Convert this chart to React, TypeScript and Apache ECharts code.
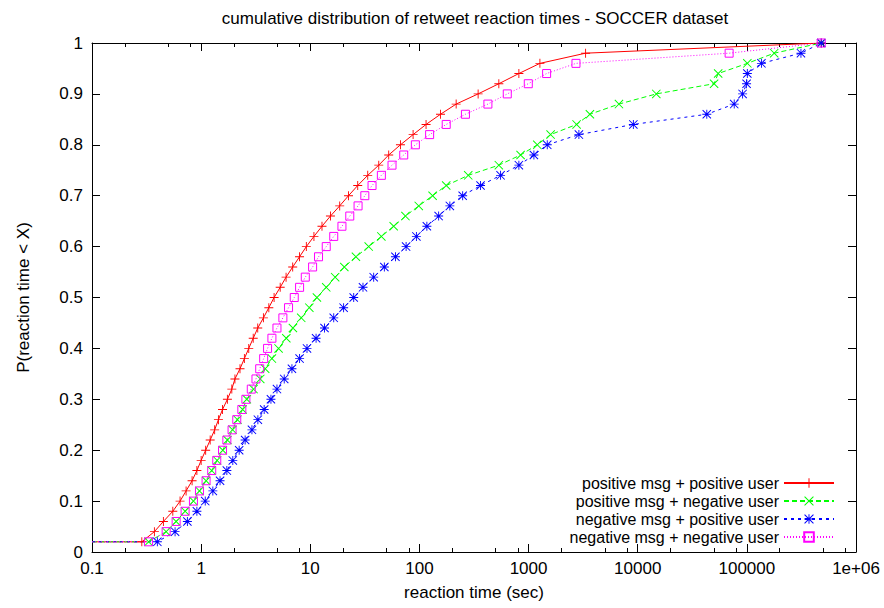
import React, { useEffect, useRef } from "react";
import * as echarts from "echarts";

// cumulative probability levels (y values of every marker)
const probLevels = [
  0.02, 0.04, 0.06, 0.08, 0.1, 0.12, 0.14, 0.16, 0.18, 0.2,
  0.22, 0.24, 0.26, 0.28, 0.3, 0.32, 0.34, 0.36, 0.38, 0.4,
  0.42, 0.44, 0.46, 0.48, 0.5, 0.52, 0.54, 0.56, 0.58, 0.6,
  0.62, 0.64, 0.66, 0.68, 0.7, 0.72, 0.74, 0.76, 0.78, 0.8,
  0.82, 0.84, 0.86, 0.88, 0.9, 0.92, 0.94, 0.96, 0.98, 1.0,
];

// flat start of every curve (left edge of the plot, first level)
const flatStartX = 0.1;
const flatStartY = 0.02;

// reaction times (sec) at each probability level
const posMsgPosUser = [
  0.286, 0.373, 0.451, 0.55, 0.641, 0.728, 0.826, 0.914, 1.0, 1.1,
  1.21, 1.33, 1.44, 1.57, 1.74, 1.91, 2.04, 2.27, 2.49, 2.73,
  3.0, 3.3, 3.72, 4.17, 4.66, 5.3, 6.0, 6.9, 7.97, 9.2,
  10.8, 12.8, 15.3, 18.6, 22.4, 27.2, 33.6, 42.4, 52.3, 67,
  87.5, 115, 156, 217, 345, 534, 815, 1270, 3330, 480000,
];
const posMsgNegUser = [
  0.33, 0.478, 0.59, 0.713, 0.85, 0.965, 1.11, 1.25, 1.4, 1.58,
  1.74, 1.94, 2.15, 2.4, 2.62, 3.02, 3.48, 3.86, 4.45, 5.12,
  6.03, 6.93, 8.26, 9.8, 11.5, 14.0, 16.9, 20.5, 26.2, 34.3,
  44.8, 58.1, 74.5, 98.6, 132, 176, 280, 534, 845, 1202,
  1592, 2754, 3648, 6730, 14800, 50100, 54600, 101000, 178000, 480000,
];
const negMsgPosUser = [
  0.397, 0.577, 0.748, 0.914, 1.09, 1.28, 1.49, 1.72, 1.95, 2.23,
  2.53, 2.92, 3.31, 3.78, 4.36, 4.95, 5.77, 6.79, 7.98, 9.33,
  11.3, 13.5, 16.4, 20.2, 25.0, 30.4, 38.1, 47.7, 60.3, 75.5,
  93.8, 117, 150, 190, 249, 363, 554, 815, 1119, 1483,
  2891, 9120, 42950, 76600, 91400, 99400, 101000, 136000, 313000, 480000,
];
const negMsgNegUser = [
  0.329, 0.478, 0.59, 0.713, 0.85, 0.965, 1.11, 1.25, 1.39, 1.57,
  1.72, 1.92, 2.12, 2.36, 2.57, 2.88, 3.18, 3.44, 3.74, 4.06,
  4.45, 4.95, 5.61, 6.32, 7.13, 7.98, 9.0, 10.5, 11.9, 14.0,
  16.4, 19.5, 23.0, 27.4, 31.6, 36.8, 44.8, 56.1, 71.8, 91.8,
  124, 176, 264, 424, 638, 994, 1463, 2719, 68800, 480000,
];

const seriesNames = [
  "positive msg + positive user",
  "positive msg + negative user",
  "negative msg + positive user",
  "negative msg + negative user",
];

const xTickValues = [0.1, 1, 10, 100, 1000, 10000, 100000, 1000000];
const xTickLabels = ["0.1", "1", "10", "100", "1000", "10000", "100000", "1e+06"];
const xMinorTickValues = [
  0.2, 0.5, 0.8, 2, 5, 8, 20, 50, 80, 200, 500, 800,
  2000, 5000, 8000, 20000, 50000, 80000, 200000, 500000, 800000,
];

const FONT = "'Liberation Sans', Arial, Helvetica, sans-serif";

const PLUS = "path://M9,0H11V9H20V11H11V20H9V11H0V9H9Z";
const CROSS = "path://M0,1.5L1.5,0L20,18.5L18.5,20ZM18.5,0L20,1.5L1.5,20L0,18.5Z";
const STAR =
  "path://M9,0H11V9H20V11H11V20H9V11H0V9H9ZM0,1.5L1.5,0L20,18.5L18.5,20ZM18.5,0L20,1.5L1.5,20L0,18.5Z";

function buildData(xs: number[]) {
  const pts: any[] = [{ value: [flatStartX, flatStartY], symbol: "none" }];
  xs.forEach((x, i) => pts.push([x, probLevels[i]]));
  return pts;
}

function labelFor(v: number) {
  const i = xTickValues.findIndex(
    (t) => Math.abs(Math.log10(t) - Math.log10(v)) < 1e-6
  );
  return i >= 0 ? xTickLabels[i] : "";
}

export default function App() {
  const ref = useRef<HTMLDivElement>(null);

  useEffect(() => {
    if (!ref.current) return;
    const chart = echarts.init(ref.current, undefined, { renderer: "svg" });

    const logAxisBase = {
      type: "log" as const,
      logBase: 10,
      min: 0.1,
      max: 1000000,
      splitNumber: 7,
      splitLine: { show: false },
      minorTick: { show: false },
      minorSplitLine: { show: false },
    };

    const textStyle = { fontFamily: FONT, fontSize: 17, color: "#000" };

    const mkSeries = (
      name: string,
      xs: number[],
      color: string,
      symbol: string,
      size: number,
      lineType: any,
      hollow: boolean
    ) => ({
      name,
      type: "line",
      xAxisIndex: 0,
      yAxisIndex: 0,
      data: buildData(xs),
      symbol,
      symbolSize: size,
      showSymbol: true,
      showAllSymbol: true,
      silent: true,
      emphasis: { disabled: true },
      lineStyle: { color, width: 1, type: lineType },
      itemStyle: hollow
        ? { color: "rgba(255,255,255,0)", borderColor: color, borderWidth: 1 }
        : { color, borderWidth: 0 },
    });

    const option: any = {
      animation: false,
      backgroundColor: "#fff",
      textStyle: { fontFamily: FONT },
      graphic: [
        {
          type: "text",
          x: 475,
          y: 18,
          silent: true,
          style: {
            text: "cumulative distribution of retweet reaction times - SOCCER dataset",
            fontFamily: FONT,
            fontSize: 17,
            fill: "#000",
            align: "center",
            textAlign: "center",
            verticalAlign: "middle",
            textVerticalAlign: "middle",
          },
        },
      ],
      grid: {
        left: 92,
        right: 28,
        top: 43,
        bottom: 56,
        containLabel: false,
        outerBoundsMode: "none",
      },
      legend: {
        data: seriesNames,
        orient: "vertical",
        align: "right",
        right: 49,
        top: 475,
        padding: 0,
        itemGap: 2,
        itemWidth: 50,
        itemHeight: 12,
        selectedMode: false,
        textStyle: { fontFamily: FONT, fontSize: 16, color: "#000" },
      },
      xAxis: [
        {
          ...logAxisBase,
          position: "bottom",
          name: "reaction time (sec)",
          nameLocation: "middle",
          nameGap: 32,
          nameTextStyle: textStyle,
          axisLine: { show: true, lineStyle: { color: "#000", width: 1 } },
          axisTick: {
            show: true,
            inside: true,
            length: 8,
            customValues: xTickValues,
            lineStyle: { color: "#000", width: 1 },
          },
          axisLabel: {
            show: true,
            margin: 8,
            customValues: xTickValues,
            formatter: (v: number) => labelFor(v),
            ...textStyle,
          },
        },
        {
          ...logAxisBase,
          position: "bottom",
          axisLine: { show: false },
          axisLabel: { show: false },
          axisTick: {
            show: true,
            inside: true,
            length: 4,
            customValues: xMinorTickValues,
            lineStyle: { color: "#000", width: 1 },
          },
        },
        {
          ...logAxisBase,
          position: "top",
          axisLine: { show: true, lineStyle: { color: "#000", width: 1 } },
          axisLabel: { show: false },
          axisTick: {
            show: true,
            inside: true,
            length: 8,
            customValues: xTickValues,
            lineStyle: { color: "#000", width: 1 },
          },
        },
        {
          ...logAxisBase,
          position: "top",
          axisLine: { show: false },
          axisLabel: { show: false },
          axisTick: {
            show: true,
            inside: true,
            length: 4,
            customValues: xMinorTickValues,
            lineStyle: { color: "#000", width: 1 },
          },
        },
      ],
      yAxis: [
        {
          type: "value",
          min: 0,
          max: 1,
          interval: 0.1,
          position: "left",
          name: "P(reaction time < X)",
          nameLocation: "middle",
          nameGap: 60,
          nameRotate: 90,
          nameTextStyle: textStyle,
          splitLine: { show: false },
          axisLine: { show: true, lineStyle: { color: "#000", width: 1 } },
          axisTick: { show: true, inside: true, length: 8, lineStyle: { color: "#000", width: 1 } },
          axisLabel: { show: true, margin: 9, ...textStyle },
        },
        {
          type: "value",
          min: 0,
          max: 1,
          interval: 0.1,
          position: "right",
          splitLine: { show: false },
          axisLine: { show: true, lineStyle: { color: "#000", width: 1 } },
          axisTick: { show: true, inside: true, length: 8, lineStyle: { color: "#000", width: 1 } },
          axisLabel: { show: false },
        },
      ],
      series: [
        mkSeries(seriesNames[0], posMsgPosUser, "#ff0000", PLUS, 9, "solid", false),
        mkSeries(seriesNames[1], posMsgNegUser, "#00ff00", CROSS, 9, [5, 3], false),
        mkSeries(seriesNames[2], negMsgPosUser, "#0000ff", STAR, 9, [3, 4], false),
        mkSeries(seriesNames[3], negMsgNegUser, "#ff00ff", "rect", 8, [1, 2], true),
      ],
    };

    chart.setOption(option);
    return () => chart.dispose();
  }, []);

  return (
    <div
      ref={ref}
      style={{ position: "fixed", left: 0, top: 0, width: 884, height: 608, background: "#fff" }}
    />
  );
}
